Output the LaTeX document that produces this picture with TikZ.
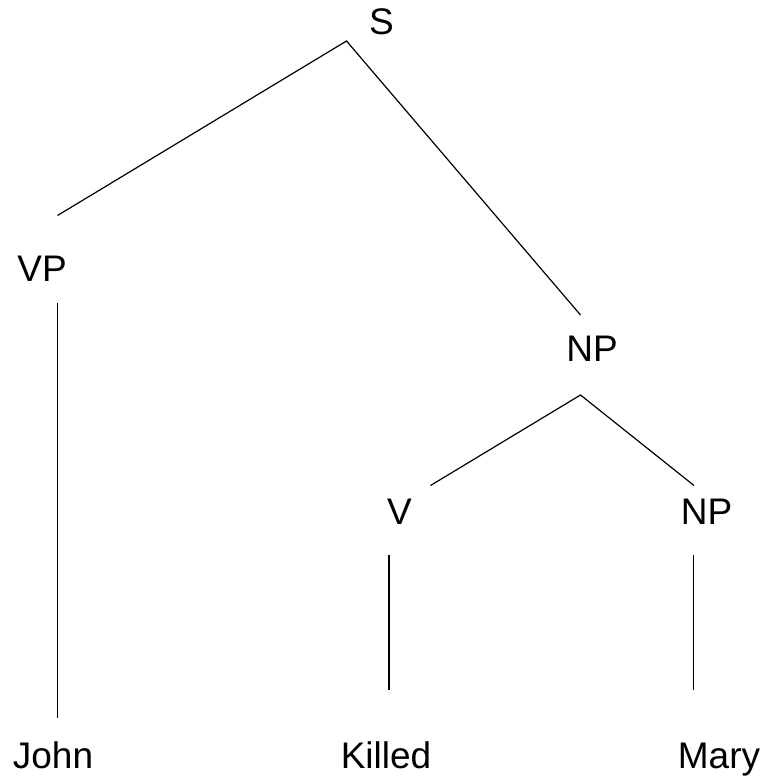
\documentclass[tikz,border=0pt]{standalone}
\usepackage{fontspec}
\setmainfont{Liberation Sans}
\usepackage{tikz}

\begin{document}
\begin{tikzpicture}[x=1pt,y=-1pt,
    lab/.style={inner sep=0,anchor=base,font=\fontsize{37}{44}\selectfont},
    branch/.style={black,line width=1.2pt}]
\useasboundingbox (0,0) rectangle (763,778);

%the labels
    \node[lab] (s) at (381.5,35) {S};
    \node[lab] (vp) at (42,281) {VP};
    \node[lab] (np) at (592,361) {NP};
    \node[lab] (v) at (399.5,524) {V};
    \node[lab] (np2) at (706.5,524) {NP};
    \node[lab] (john) at (53,768) {John};
    \node[lab] (killed) at (386,768) {Killed};
    \node[lab] (mary) at (719,768) {Mary};

%the branch ends
    \coordinate (s1) at (346.5,41);
    \coordinate (vp1) at (57.5,215.5);
    \coordinate (vp2) at (57.5,303);
    \coordinate (john1) at (57.5,718);
    \coordinate (np1) at (580.5,315);
    \coordinate (np2a) at (580.5,395);
    \coordinate (v1) at (430.5,485.5);
    \coordinate (np3) at (694,485.5);
    \coordinate (v2) at (389,555);
    \coordinate (killed1) at (389,690);
    \coordinate (np4) at (693.5,555);
    \coordinate (mary1) at (693.5,690);

%the branches
    \draw[branch] (vp1) -- (s1) -- (np1);
    \draw[branch] (vp2) -- (john1);
    \draw[branch] (v1) -- (np2a) -- (np3);
    \draw[branch] (v2) -- (killed1);
    \draw[branch] (np4) -- (mary1);
\end{tikzpicture}
\end{document}
